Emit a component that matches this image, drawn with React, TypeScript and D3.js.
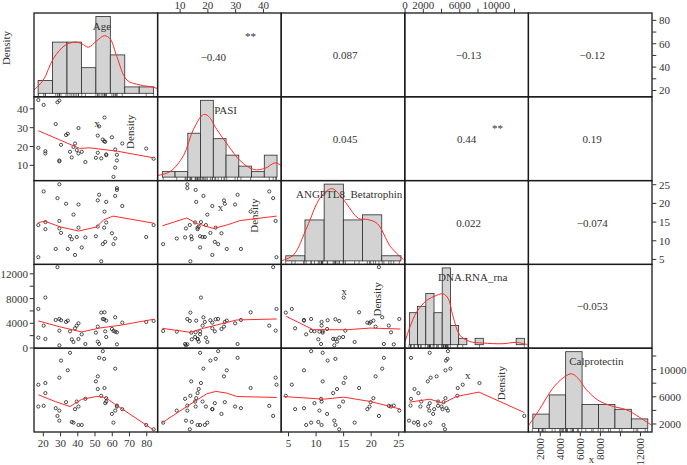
import * as d3 from 'd3'

const names = ['Age', 'PASI', 'ANGPTL8_Betatrophin', 'DNA.RNA_rna', 'Calprotectin']

// one entry per subject
const age = [17.1, 17.1, 20.2, 21.2, 21.2, 27.2, 28.2, 29.3, 29.3, 29.3, 30.3, 33.2, 34.2, 35.5, 36.5, 37.5, 38.4, 39.4, 40.4, 40.4, 42.3, 44.4, 50.5, 51.6, 51.6, 52.4, 53.6, 54.5, 55.5, 55.3, 55.9, 56.5, 56.5, 59.8, 60.7, 61.7, 61.7, 62.7, 62.7, 65.8, 79.7, 84.0]
const pasi = [44.7, 19.3, 42.1, 17.5, 16.3, 31.9, 43.5, 44.4, 12.6, 12.1, 20.9, 26.1, 26.8, 17.2, 14.2, 19.8, 21.6, 18.1, 29.8, 16.3, 17.2, 11.8, 14.0, 25.8, 16.7, 30.7, 13.7, 23.7, 35.4, 22.8, 22.5, 15.8, 15.4, 24.9, 3.9, 18.4, 8.8, 15.6, 12.6, 21.6, 18.9, 13.5]
const angptl8 = [5.6, 14.2, 23.2, 15.0, 13.1, 7.8, 21.4, 15.3, 25.1, 13.3, 12.1, 19.9, 7.8, 11.2, 10.4, 17.0, 6.2, 11.0, 19.7, 13.5, 8.2, 10.9, 11.2, 20.8, 13.8, 22.3, 4.5, 9.1, 17.8, 13.5, 9.7, 20.4, 14.9, 12.0, 9.1, 22.0, 10.6, 23.6, 24.1, 19.3, 11.0, 14.2]
const dnaRna = [6324, 1680, 3620, 8160, 1460, 4540, 13080, 2810, 4700, 430, 4490, 4220, 4430, 2700, 1405, 973, 3190, 3620, 4000, 1460, 2216, 650, 2490, 3460, 1030, 650, 5730, 4700, 5780, 4650, 2700, 4430, 1780, 3080, 2760, 4970, 2650, 2540, 595, 4110, 4220, 4380]
const calpro = [7776, 4565, 4666, 8025, 6545, 4325, 3185, 8812, 3970, 2490, 11330, 5210, 9895, 12470, 2296, 2195, 4180, 5300, 4565, 1852, 1852, 5700, 8270, 9005, 7140, 11730, 6145, 12710, 7290, 11580, 5065, 5800, 5300, 3480, 2195, 10145, 3970, 4565, 4710, 4180, 1852, 1215]
const columns = [age, pasi, angptl8, dnaRna, calpro]

// axis ranges of each variable
const ranges: [number, number][] = [[14.6, 86.3], [1.9, 46.4], [3.67, 26.1], [-30, 13530], [820, 13150]]

// histograms: equal bins between the two limits
const histLimits: [number, number][] = [[17, 84], [3.6, 44.9], [4.5, 25.4], [470, 13090], [1260, 12730]]
const ageCounts = [2, 8, 8, 4, 12, 6, 1, 1]
const pasiCounts = [1, 1, 8, 14, 7, 4, 2, 1, 4]
const angCounts = [1, 8, 15, 8, 9, 1]
const dnaCounts = [5, 6, 8, 5, 12, 3, 1, 0, 1, 0, 0, 0, 0, 1]
const calCounts = [3, 7, 16, 5, 5, 4, 2]
const histCounts = [ageCounts, pasiCounts, angCounts, dnaCounts, calCounts]

// density curves, in count units
const densAge = [[14.6, 0.52], [20, 2.07], [25.8, 5.4], [32.6, 7.5], [38.4, 8.0], [42.3, 7.75], [46.2, 7.2], [51, 8.2], [55.5, 9.0], [58.8, 8.5], [62.7, 5.7], [68.5, 2.07], [76.2, 1.3], [84, 0.93], [86.3, 0.72]]
const densPasi = [[1.9, 0.3], [6.4, 1.0], [11.2, 3.9], [14.8, 8.7], [18.4, 11.4], [20.2, 11.1], [23.2, 8.7], [27.4, 5.7], [31.6, 3.0], [36.4, 1.4], [40.6, 1.6], [44.2, 2.6], [46.4, 2.1]]
const densAng = [[3.8, 0.06], [5.9, 1.16], [8.35, 6.6], [10.8, 12.4], [12.9, 14.1], [15.0, 11.9], [17.7, 8.3], [19.3, 8.1], [21.1, 7.3], [23.5, 2.8], [25.9, 0.2]]
const densDna = [[0, 0.5], [545, 2.8], [1270, 5.1], [2360, 6.9], [3450, 7.7], [4180, 7.95], [4730, 7.2], [5270, 4.4], [6000, 1.5], [7090, 0.5], [8540, 0.26], [10720, 0.15], [12180, 0.36], [13450, 0.0]]
const densCal = [[860, 0.7], [1930, 4.0], [3260, 8.4], [4260, 10.5], [5100, 11.4], [5760, 10.5], [6600, 8.1], [7760, 5.9], [9100, 4.7], [10600, 3.9], [11930, 2.3], [13100, 0.7]]
const densities = [densAge, densPasi, densAng, densDna, densCal]

// smoother lines of the scatter panels, [x, y]
const smAgePasi = [[17.1, 28.4], [32.6, 22.3], [41, 19.0], [47, 19.3], [63, 17.5], [84, 14.0]]
const smAgeAng = [[17.1, 14.9], [21, 15.2], [30, 13.7], [40.5, 12.6], [51, 13.7], [55, 15.6], [60.5, 16.6], [84, 14.7]]
const smPasiAng = [[3.6, 14.0], [12.4, 16.1], [16, 14.6], [22, 13.3], [26.8, 14.2], [31.6, 15.4], [44.8, 16.6]]
const smAgeDna = [[17.1, 4380], [30, 3400], [42.3, 2600], [53, 3250], [65, 3700], [84, 4650]]
const smPasiDna = [[3.6, 3190], [13.6, 2540], [18.4, 3190], [23.2, 3730], [30.4, 4540], [44.8, 4700]]
const smAngDna = [[4.6, 5120], [9.5, 2960], [15.6, 2960], [19.8, 3230], [25.3, 3070]]
const smAgeCal = [[17.1, 6300], [27, 5300], [35.5, 4565], [42.3, 5630], [51, 6050], [56, 5900], [60.7, 5065], [84, 1110]]
const smPasiCal = [[3.6, 2195], [12.4, 4565], [19.6, 6440], [22.9, 6790], [26.8, 6545], [30.4, 6045], [44.8, 5900]]
const smAngCal = [[4.1, 6040], [11.4, 5650], [15, 5950], [19.9, 5300], [25.3, 4190]]
const smDnaCal = [[470, 5210], [2730, 5650], [4180, 5065], [5640, 6040], [8110, 6690], [13090, 3680]]
const smoothers: Record<string, number[][]> = {
  '1-0': smAgePasi, '2-0': smAgeAng, '2-1': smPasiAng,
  '3-0': smAgeDna, '3-1': smPasiDna, '3-2': smAngDna,
  '4-0': smAgeCal, '4-1': smPasiCal, '4-2': smAngCal, '4-3': smDnaCal,
}

const corrCells = [
  { row: 0, col: 1, r: '−0.40', sig: true },
  { row: 0, col: 2, r: '0.087', sig: false },
  { row: 0, col: 3, r: '−0.13', sig: false },
  { row: 0, col: 4, r: '−0.12', sig: false },
  { row: 1, col: 2, r: '0.045', sig: false },
  { row: 1, col: 3, r: '0.44', sig: true },
  { row: 1, col: 4, r: '0.19', sig: false },
  { row: 2, col: 3, r: '0.022', sig: false },
  { row: 2, col: 4, r: '−0.074', sig: false },
  { row: 3, col: 4, r: '−0.053', sig: false },
]

const ageTicks = [20, 30, 40, 50, 60, 70, 80]
const pasiTicks = [10, 20, 30, 40]
const angTicks = [5, 10, 15, 20, 25]
const dnaTicks = [0, 2000, 4000, 6000, 8000, 10000, 12000]
const calTicks = [2000, 4000, 6000, 8000, 10000, 12000]

const L = 34
const T = 13
const R = 652
const B = 432
const cw = (R - L) / 5
const ch = (B - T) / 5
const ink = '#333'
const red = '#ff2a2a'
const serif = "'Liberation Serif', 'DejaVu Serif', 'Times New Roman', serif"

const xs = (v: number) => d3.scaleLinear().domain(ranges[v]).range([L + v * cw, L + (v + 1) * cw])
const ys = (v: number) => d3.scaleLinear().domain(ranges[v]).range([T + (v + 1) * ch, T + v * ch])

function Diagonal({ v }: { v: number }) {
  const x = xs(v)
  const [lo, hi] = histLimits[v]
  const counts = histCounts[v]
  const n = counts.length
  const edges = d3.range(n + 1).map((k) => lo + (k * (hi - lo)) / n)
  const top = T + v * ch
  const bottom = top + ch
  const hy = d3.scaleLinear().domain([0, d3.max(counts) as number]).range([bottom - 3.5, top + 3.5])
  const line = d3
    .line<number[]>()
    .x((d) => x(d[0]))
    .y((d) => hy(d[1]))
    .curve(d3.curveCatmullRom)
  return (
    <g>
      <clipPath id={`clip${v}`}>
        <rect x={L + v * cw} y={top} width={cw} height={ch} />
      </clipPath>
      {counts.map((c, k) =>
        c > 0 ? (
          <rect key={k} x={x(edges[k])} y={hy(c)} width={x(edges[k + 1]) - x(edges[k])} height={hy(0) - hy(c)}
            fill="#d3d3d3" stroke="#2b2b2b" strokeWidth={0.8} />
        ) : null
      )}
      {columns[v].map((d, k) => (
        <line key={k} x1={x(d)} x2={x(d)} y1={hy(0)} y2={bottom} stroke="#222" strokeWidth={0.6} />
      ))}
      <path d={line(densities[v]) || ''} fill="none" stroke={red} strokeWidth={1} clipPath={`url(#clip${v})`} />
      <text x={L + v * cw + 68} y={top + 13} textAnchor="middle" dominantBaseline="central" fontSize={11} fill={ink}>
        {names[v]}
      </text>
      <text x={L + v * cw + 63} y={bottom + 26.5} textAnchor="middle" dominantBaseline="central" fontSize={11} fill={ink}>
        x
      </text>
      <text transform={`translate(${L + v * cw - 27.6},${top + 35}) rotate(-90)`} textAnchor="middle"
        dominantBaseline="central" fontSize={11} fill={ink}>
        Density
      </text>
    </g>
  )
}

function Scatter({ row, col }: { row: number; col: number }) {
  const x = xs(col)
  const y = ys(row)
  const line = d3
    .line<number[]>()
    .x((d) => x(d[0]))
    .y((d) => y(d[1]))
  return (
    <g>
      {columns[col].map((d, k) => (
        <circle key={k} cx={x(d)} cy={y(columns[row][k])} r={1.6} fill="none" stroke="#222" strokeWidth={0.8} />
      ))}
      <path d={line(smoothers[`${row}-${col}`]) || ''} fill="none" stroke={red} strokeWidth={1} />
    </g>
  )
}

function Corr({ row, col, r, sig }: { row: number; col: number; r: string; sig: boolean }) {
  const cx = L + (col + 0.5) * cw
  const cy = T + (row + 0.5) * ch
  const first = row === 0
  return (
    <g fontSize={11} fill={ink}>
      <text x={sig ? (first ? cx - 6 : cx) : cx + 2} y={sig && first ? cy + 2 : cy} textAnchor="middle" dominantBaseline="central">
        {r}
      </text>
      {sig && (
        <text x={cx + 31} y={first ? cy - 19 : cy - 11} textAnchor="middle" dominantBaseline="central">**</text>
      )}
    </g>
  )
}

export default function App() {
  const fmt = (t: number) => String(t)
  const bottomAxis = (v: number, ticks: number[], labels: number[], rotate = false) => {
    const x = xs(v)
    return (
      <g key={`b${v}`}>
        {ticks.map((t) => (
          <line key={t} x1={x(t)} x2={x(t)} y1={B} y2={B + 4.3} stroke={ink} />
        ))}
        {labels.map((t) =>
          rotate ? (
            <text key={t} transform={`translate(${x(t)},${B + 6}) rotate(-90)`} textAnchor="end"
              dominantBaseline="central" fontSize={11} fill={ink}>{fmt(t)}</text>
          ) : (
            <text key={t} x={x(t)} y={B + 11} textAnchor="middle" dominantBaseline="central" fontSize={11} fill={ink}>
              {fmt(t)}
            </text>
          )
        )}
      </g>
    )
  }
  const topAxis = (v: number, ticks: number[], labels: number[]) => {
    const x = xs(v)
    return (
      <g key={`t${v}`}>
        {ticks.map((t) => (
          <line key={t} x1={x(t)} x2={x(t)} y1={T} y2={T - 4.3} stroke={ink} />
        ))}
        {labels.map((t) => (
          <text key={t} x={x(t)} y={8.6} textAnchor="middle" fontSize={11} fill={ink}>{fmt(t)}</text>
        ))}
      </g>
    )
  }
  const rightAxis = (v: number, ticks: number[], labels: number[]) => {
    const y = ys(v)
    return (
      <g key={`r${v}`}>
        {ticks.map((t) => (
          <line key={t} x1={R} x2={R + 4.3} y1={y(t)} y2={y(t)} stroke={ink} />
        ))}
        {labels.map((t) => (
          <text key={t} x={R + 7} y={y(t)} dominantBaseline="central" fontSize={11} fill={ink}>{fmt(t)}</text>
        ))}
      </g>
    )
  }
  const leftAxis = (v: number, ticks: number[], labels: number[]) => {
    const y = ys(v)
    return (
      <g key={`l${v}`}>
        {ticks.map((t) => (
          <line key={t} x1={L} x2={L - 4.3} y1={y(t)} y2={y(t)} stroke={ink} />
        ))}
        {labels.map((t) => (
          <text key={t} x={L - 6} y={y(t)} textAnchor="end" dominantBaseline="central" fontSize={11} fill={ink}>{fmt(t)}</text>
        ))}
      </g>
    )
  }

  const cells = []
  for (let i = 0; i < 5; i++) {
    for (let j = 0; j < i; j++) cells.push(<Scatter key={`s${i}${j}`} row={i} col={j} />)
  }

  return (
    <svg width={687} height={465} style={{ position: 'absolute', left: 0, top: 0, background: '#fff', fontFamily: serif }}>
      {d3.range(5).map((v) => <Diagonal key={v} v={v} />)}
      {cells}
      {corrCells.map((c) => <Corr key={`${c.row}${c.col}`} {...c} />)}
      {d3.range(5).map((i) =>
        d3.range(5).map((j) => (
          <rect key={`${i}-${j}`} x={L + j * cw} y={T + i * ch} width={cw} height={ch} fill="none" stroke="#1a1a1a" strokeWidth={1.3} />
        ))
      )}
      {bottomAxis(0, ageTicks, ageTicks)}
      {bottomAxis(2, angTicks, angTicks)}
      {bottomAxis(4, calTicks, [2000, 4000, 6000, 8000, 12000], true)}
      {topAxis(1, pasiTicks, pasiTicks)}
      {topAxis(3, dnaTicks, [0, 2000, 6000, 10000])}
      {rightAxis(0, ageTicks, [20, 40, 60, 80])}
      {rightAxis(2, angTicks, angTicks)}
      {rightAxis(4, calTicks, [2000, 6000, 10000])}
      {leftAxis(1, pasiTicks, pasiTicks)}
      {leftAxis(3, dnaTicks, [0, 4000, 8000, 12000])}
    </svg>
  )
}
